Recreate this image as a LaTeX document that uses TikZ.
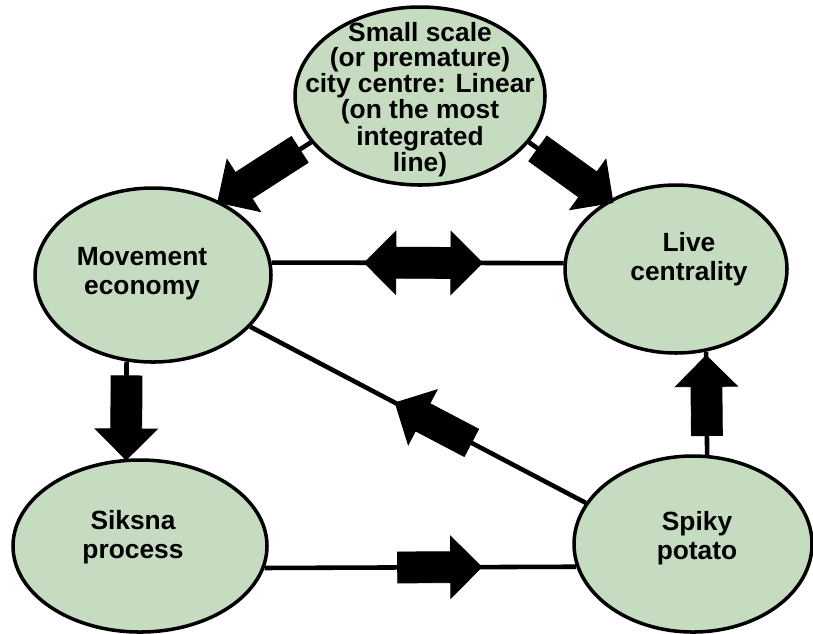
\documentclass[tikz,border=0pt]{standalone}
\usepackage{fontspec}
\setmainfont{Liberation Sans}
\usetikzlibrary{shapes, arrows.meta, positioning, calc}
\definecolor{sage}{RGB}{198,220,192}

\begin{document}
\begin{tikzpicture}[
        place/.style={ellipse, draw=black, line width=2pt, fill=sage, inner sep=0pt},
        tag/.style={font=\bfseries\fontsize{15}{16.5}\selectfont, align=center, inner sep=0pt},
        link/.style={line width=2.6pt, draw=black},
        blockarrow/.style={single arrow, fill=black, draw=black, line width=0.5pt, inner xsep=0pt, inner ysep=0.3cm, minimum width=1.22cm, single arrow head extend=0.31cm, sloped, allow upside down},
        twinarrow/.style={double arrow, fill=black, draw=black, line width=0.5pt, inner xsep=0pt, inner ysep=0.3cm, minimum width=1.24cm, double arrow head extend=0.32cm, sloped, allow upside down}
    ]
        \useasboundingbox (0,0) rectangle (16.26,-12.66);
        % ellipses
        \node[place, minimum width=5cm, minimum height=3.56cm] (centre) at (8.4,-1.92) {};
        \node[place, minimum width=4.72cm, minimum height=3.48cm] (move) at (3.06,-5.5) {};
        \node[place, minimum width=4.44cm, minimum height=3.36cm] (live) at (13.52,-5.38) {};
        \node[place, minimum width=5.08cm, minimum height=3.44cm] (siksna) at (2.8,-10.92) {};
        \node[place, minimum width=4.76cm, minimum height=3.52cm] (spiky) at (13.86,-10.88) {};
        % texts
        \node[tag, font=\bfseries\fontsize{15}{13.8}\selectfont] (centreText) at ([yshift=-0.08cm]centre) {Small scale\\(or premature)\\city centre: Linear\\(on the most\\integrated\\line)};
        \node[tag] (moveText) at ([shift={(-0.22,0.02)}]move) {Movement\\economy};
        \node[tag] (liveText) at ([shift={(0.26,0.2)}]live) {Live\\centrality};
        \node[tag] (siksnaText) at ([shift={(-0.14,0.17)}]siksna) {Siksna\\process};
        \node[tag] (spikyText) at ([shift={(0.08,0.11)}]spiky) {Spiky\\potato};
        % connectors
        \draw[link] (centre.203) -- (move.48) node[blockarrow, pos=0.5, minimum height=1.95cm] (arrowA) {};
        \draw[link] (centre.337) -- (live.134.6) node[blockarrow, pos=0.5, minimum height=1.85cm] (arrowB) {};
        \draw[link] (move.6) -- (live.177) node[twinarrow, pos=0.52, minimum height=2.36cm] (arrowC) {};
        \draw[link] (spiky.159) -- (move.332.5) node[blockarrow, pos=0.434, minimum height=1.72cm] (arrowD) {};
        \draw[link] (move.253) -- (siksna.99) node[blockarrow, pos=0.5, minimum height=1.68cm] (arrowE) {};
        \draw[link] (siksna.350) -- (spiky.191.5) node[blockarrow, pos=0.537, minimum height=1.68cm] (arrowF) {};
        \draw[link] (spiky.81) -- (live.290.5) node[blockarrow, pos=0.5, minimum height=1.6cm] (arrowG) {};
    \end{tikzpicture}
\end{document}
